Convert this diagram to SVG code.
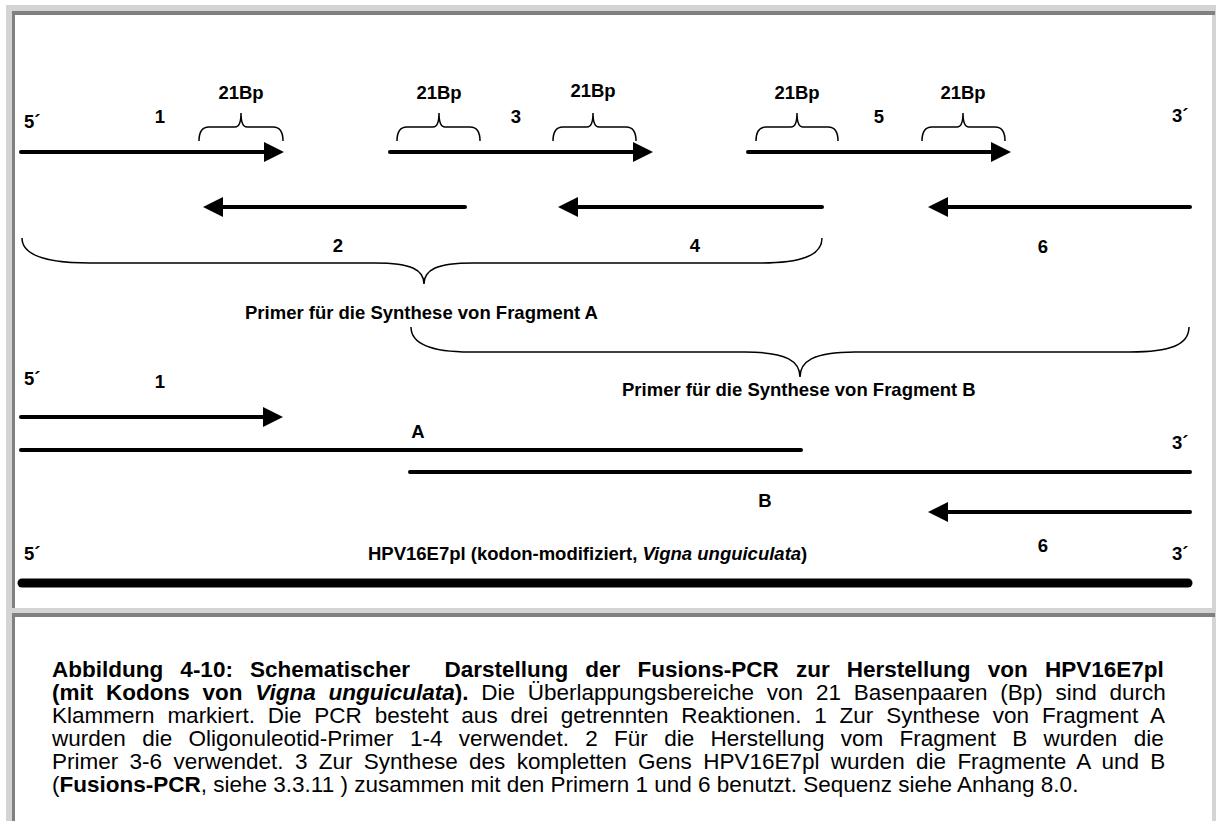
<svg xmlns="http://www.w3.org/2000/svg" width="1217" height="821" viewBox="0 0 1217 821">
<style>
.lbl{font-family:"Liberation Sans",Arial,sans-serif;font-weight:bold;font-size:18.5px;fill:#000}
.cap{font-family:"Liberation Sans",Arial,sans-serif;font-size:22.5px;fill:#000;white-space:pre}
.b{font-weight:bold}
.i{font-style:italic}
.ln{stroke:#000;stroke-width:4;stroke-linecap:round;fill:none}
.arr{stroke:#000;stroke-width:4;stroke-linecap:round;fill:none;marker-end:url(#head)}
.br{stroke:#000;stroke-width:1.5;fill:none}
</style>
<defs>
<marker id="head" markerUnits="userSpaceOnUse" viewBox="0 0 20 20" refX="0" refY="10" markerWidth="20" markerHeight="20" orient="auto">
<path d="M0,0 L20,10 L0,20 z" fill="#000"/>
</marker>
</defs>
<rect width="1217" height="821" fill="#fff"/>
<g id="frame">
<rect x="6" y="5" width="1210" height="816" fill="#d4d4d4"/>
<rect x="12" y="11" width="1203" height="4" fill="#808080"/>
<rect x="12" y="11" width="3" height="597" fill="#808080"/>
<rect x="15" y="15" width="1197" height="593" fill="#fff"/>
<rect x="12" y="613" width="1203" height="4" fill="#808080"/>
<rect x="12" y="613" width="3" height="208" fill="#808080"/>
<rect x="15" y="617" width="1197" height="204" fill="#fff"/>
</g>
<g id="connectors">
<line class="arr" x1="21" y1="152" x2="264" y2="152"/>
<line class="arr" x1="390" y1="152" x2="633" y2="152"/>
<line class="arr" x1="748" y1="152" x2="991" y2="152"/>
<line class="arr" x1="465" y1="207" x2="223" y2="207"/>
<line class="arr" x1="822" y1="207" x2="578" y2="207"/>
<line class="arr" x1="1190" y1="207" x2="948" y2="207"/>
<line class="arr" x1="21" y1="417" x2="263" y2="417"/>
<line class="ln" x1="21" y1="450" x2="801" y2="450"/>
<line class="ln" x1="410" y1="472" x2="1190" y2="472"/>
<line class="arr" x1="1190" y1="512" x2="948" y2="512"/>
<line x1="22" y1="583" x2="1188" y2="583" stroke="#000" stroke-width="9" stroke-linecap="round"/>
</g>
<g id="braces">
<path class="br" d="M199,141 Q199,127 209,127 L235,127 Q241,127 241,113 Q241,127 247,127 L273,127 Q283,127 283,141"/>
<path class="br" d="M397,141 Q397,127 407,127 L433,127 Q439,127 439,113 Q439,127 445,127 L470,127 Q480,127 480,141"/>
<path class="br" d="M553,141 Q553,127 563,127 L587,127 Q593,127 593,113 Q593,127 599,127 L626,127 Q636,127 636,141"/>
<path class="br" d="M756,141 Q756,127 766,127 L791,127 Q797,127 797,113 Q797,127 803,127 L828,127 Q838,127 838,141"/>
<path class="br" d="M922,141 Q922,127 932,127 L957,127 Q963,127 963,113 Q963,127 969,127 L995,127 Q1005,127 1005,141"/>
<path class="br" d="M22,238 C22,256 50,263 90,263 L375,263 C412,263 424,270 424,284 C424,270 436,263 473,263 L760,263 C800,263 822,256 822,238"/>
<path class="br" d="M411,327 C411,345 435,352 470,352 L745,352 C788,352 800,362 800,377 C800,362 812,352 855,352 L1130,352 C1170,352 1189,345 1189,327"/>
</g>
<g id="labels">
<text class="lbl" x="241" y="99" text-anchor="middle">21Bp</text>
<text class="lbl" x="439" y="99" text-anchor="middle">21Bp</text>
<text class="lbl" x="593" y="97" text-anchor="middle">21Bp</text>
<text class="lbl" x="797" y="99" text-anchor="middle">21Bp</text>
<text class="lbl" x="963" y="99" text-anchor="middle">21Bp</text>
<text class="lbl" x="24" y="128">5´</text>
<text class="lbl" x="160" y="123" text-anchor="middle">1</text>
<text class="lbl" x="516" y="123" text-anchor="middle">3</text>
<text class="lbl" x="879" y="123" text-anchor="middle">5</text>
<text class="lbl" x="1172" y="122">3´</text>
<text class="lbl" x="338" y="252" text-anchor="middle">2</text>
<text class="lbl" x="695" y="252" text-anchor="middle">4</text>
<text class="lbl" x="1043" y="253" text-anchor="middle">6</text>
<text class="lbl" x="245" y="319">Primer für die Synthese von Fragment A</text>
<text class="lbl" x="622" y="396">Primer für die Synthese von Fragment B</text>
<text class="lbl" x="24" y="385">5´</text>
<text class="lbl" x="160" y="388" text-anchor="middle">1</text>
<text class="lbl" x="418" y="438" text-anchor="middle">A</text>
<text class="lbl" x="1172" y="449">3´</text>
<text class="lbl" x="765" y="507" text-anchor="middle">B</text>
<text class="lbl" x="1043" y="552" text-anchor="middle">6</text>
<text class="lbl" x="24" y="560">5´</text>
<text class="lbl" x="1172" y="560">3´</text>
<text class="lbl" x="368" y="560">HPV16E7pl (kodon-modifiziert, <tspan class="i">Vigna unguiculata</tspan>)</text>
</g>
<g id="caption">
<text class="cap b" x="52" y="677" style="word-spacing:10.9px">Abbildung 4-10: Schematischer  Darstellung der Fusions-PCR zur Herstellung von HPV16E7pl</text>
<text class="cap" x="52" y="700" style="word-spacing:6.5px"><tspan class="b">(mit Kodons von </tspan><tspan class="b i">Vigna unguiculata</tspan><tspan class="b">).</tspan> Die Überlappungsbereiche von 21 Basenpaaren (Bp) sind durch</text>
<text class="cap" x="52" y="723" style="word-spacing:6.6px">Klammern markiert. Die PCR besteht aus drei getrennten Reaktionen. 1 Zur Synthese von Fragment A</text>
<text class="cap" x="52" y="746" style="word-spacing:10.1px">wurden die Oligonuleotid-Primer 1-4 verwendet. 2 Für die Herstellung vom Fragment B wurden die</text>
<text class="cap" x="52" y="769" style="word-spacing:5.1px">Primer 3-6 verwendet. 3 Zur Synthese des kompletten Gens HPV16E7pl wurden die Fragmente A und B</text>
<text class="cap" x="52" y="792">(<tspan class="b">Fusions-PCR</tspan>, siehe 3.3.11 ) zusammen mit den Primern 1 und 6 benutzt. Sequenz siehe Anhang 8.0.</text>
</g>
</svg>
